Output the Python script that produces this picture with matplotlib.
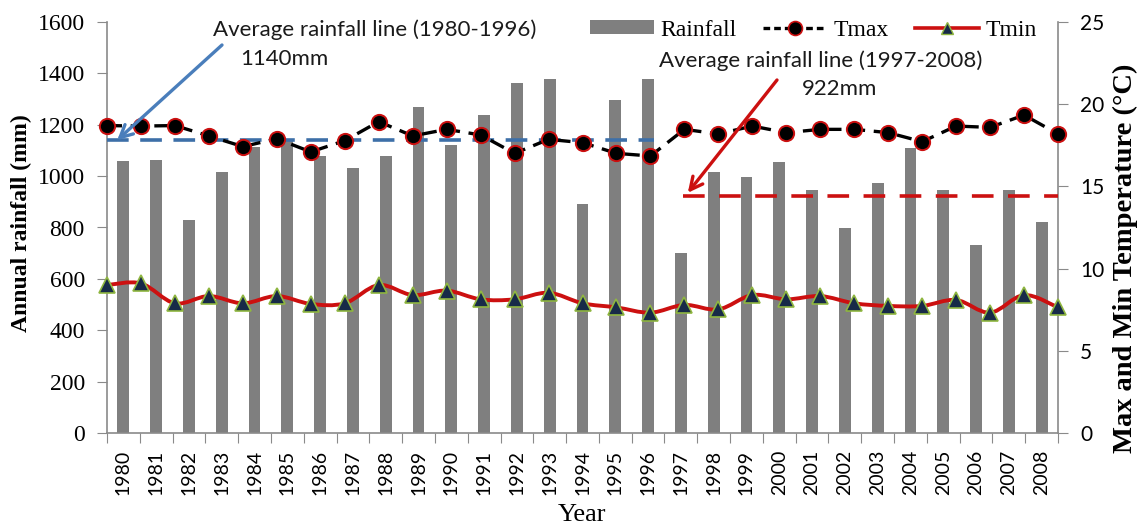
import numpy as np
import matplotlib
matplotlib.use('Agg')
import matplotlib.pyplot as plt
import matplotlib.transforms as mtransforms
from matplotlib.path import Path
from matplotlib.patches import PathPatch, Patch
from matplotlib.lines import Line2D

# ---------------- data ----------------
years = list(range(1980, 2009))
rainfall = [1058, 1063, 829, 1016, 1115, 1140, 1078, 1032, 1078,
            1270, 1121, 1238, 1361, 1377, 891, 1296, 1377,
            700, 1015, 998, 1056, 946, 799, 974, 1111, 946, 732, 946, 823]
tmax = [18.7, 18.67, 18.7, 18.07, 17.42, 17.9, 17.1, 17.78, 18.94,
        18.07, 18.47, 18.13, 17.01, 17.86, 17.66, 17.01, 16.85,
        18.47, 18.19, 18.67, 18.27, 18.47, 18.47, 18.27, 17.72, 18.67, 18.59, 19.34, 18.19]
tmin = [9.0, 9.1, 7.89, 8.33, 7.89, 8.33, 7.85, 7.89, 9.0,
        8.39, 8.66, 8.13, 8.13, 8.53, 7.89, 7.64, 7.32,
        7.79, 7.52, 8.39, 8.13, 8.33, 7.89, 7.73, 7.73, 8.09, 7.32, 8.39, 7.64]
avg_1980_1996 = 1140
avg_1997_2008 = 922
rain_ticks = [0, 200, 400, 600, 800, 1000, 1200, 1400, 1600]
temp_ticks = [0, 5, 10, 15, 20, 25]

GRAY_AX = '#8a8a8a'
BAR_C = '#7f7f7f'
BLUE = '#4a7ebb'
RED = '#cc1010'
SERIF = 'Liberation Serif'

W, H = 1143, 526
fig = plt.figure(figsize=(W / 100, H / 100), dpi=100)
pos = [107 / W, 93 / H, 951 / W, 411 / H]

# ---------------- rainfall bars ----------------
ax = fig.add_axes(pos)
n = len(years)
xi = np.arange(n)
ax.bar(xi, rainfall, width=0.36, color=BAR_C, zorder=2)
ax.set_xlim(-0.5, n - 0.5)
ax.set_ylim(0, 1600)
ax.set_yticks(rain_ticks, labels=[str(t) for t in rain_ticks])
ax.set_xticks(np.arange(-0.5, n, 1))
ax.set_xticks(xi, labels=[str(y) for y in years], minor=True)
ax.tick_params(axis='x', which='major', length=7, color=GRAY_AX, labelbottom=False)
ax.tick_params(axis='x', which='minor', length=0, pad=12, labelrotation=90,
               labelsize=14, labelfontfamily='Lato')
ax.tick_params(axis='y', length=7, color=GRAY_AX, pad=9, labelsize=17,
               labelfontfamily=SERIF)
for s in ['top', 'right']:
    ax.spines[s].set_visible(False)
for s in ['left', 'bottom']:
    ax.spines[s].set_color(GRAY_AX)
    ax.spines[s].set_linewidth(1.2)
ax.set_ylabel('Annual rainfall (mm)', family=SERIF, fontsize=17, fontweight='bold')
ax.yaxis.set_label_coords(-0.079, 0.51)
ax.yaxis.label.set_va('bottom')
ax.set_xlabel('Year', family=SERIF, fontsize=19)
ax.xaxis.set_label_coords(0.5, -0.172)
ax.xaxis.label.set_va('top')

# ---------------- temperature axes ----------------
axt = fig.add_axes(pos, label='temps')
axt.patch.set_visible(False)
axt.xaxis.set_visible(False)
axt.yaxis.tick_right()
for s in ['top', 'left', 'bottom']:
    axt.spines[s].set_visible(False)
axt.spines['right'].set_color(GRAY_AX)
axt.spines['right'].set_linewidth(1.2)

trans = mtransforms.blended_transform_factory(axt.transData, ax.transData)

# average rainfall lines
axt.plot([0, 16.1], [avg_1980_1996, avg_1980_1996], transform=trans, color='#3d6fa8',
         lw=2.6, ls=(0, (6, 3.2)), zorder=3, clip_on=False)
axt.plot([16.95, 28], [avg_1997_2008, avg_1997_2008], transform=trans, color=RED,
         lw=2.6, ls=(0, (6, 4)), zorder=3, clip_on=False)

# Tmax
axt.plot(xi, tmax, color='black', lw=2.4, ls=(0, (4.5, 2.6)), marker='o', ms=11,
         mfc='black', mec=RED, mew=1.4, zorder=6, clip_on=False)

# Tmin smooth line (Catmull-Rom style Bezier through the data points)
P = np.column_stack([xi, tmin]).astype(float)
verts = [P[0]]
codes = [Path.MOVETO]
for i in range(n - 1):
    p0 = P[i - 1] if i > 0 else P[i]
    p1 = P[i]
    p2 = P[i + 1]
    p3 = P[i + 2] if i + 2 < n else P[i + 1]
    verts += [p1 + (p2 - p0) / 6, p2 - (p3 - p1) / 6, p2]
    codes += [Path.CURVE4] * 3
axt.add_patch(PathPatch(Path(verts, codes), transform=axt.transData, fill=False,
                        ec=RED, lw=2.8, zorder=5, clip_on=False))
axt.plot(xi, tmin, ls='none', marker='^', ms=11, mfc='#172a48', mec='#8fb640',
         mew=1.2, zorder=7, clip_on=False)

axt.set_xlim(0, n - 1)
axt.set_ylim(0, 25)
axt.set_yticks(temp_ticks, labels=[str(t) for t in temp_ticks])
axt.tick_params(axis='y', length=7, color=GRAY_AX, pad=9, labelsize=15,
                labelfontfamily='Lato')
axt.set_ylabel('Max and Min Temperature (\u00b0C)', family=SERIF,
               fontsize=20.5, fontweight='bold')
axt.yaxis.set_label_position('right')
axt.yaxis.set_label_coords(1.058, 0.426)
axt.yaxis.label.set_va('top')

# ---------------- annotations ----------------
axt.annotate('', xy=(0.3, avg_1980_1996), xycoords=trans,
             xytext=(222 / W, 1 - 45 / H), textcoords='figure fraction',
             arrowprops=dict(arrowstyle='->,head_length=0.9,head_width=0.45',
                             color=BLUE, lw=2.4, shrinkA=0, shrinkB=0), zorder=8)
axt.annotate('', xy=(17.1, 935), xycoords=trans,
             xytext=(777 / W, 1 - 80 / H), textcoords='figure fraction',
             arrowprops=dict(arrowstyle='->,head_length=0.9,head_width=0.45',
                             color=RED, lw=2.4, shrinkA=0, shrinkB=0), zorder=8)
txt_kw = dict(family='Lato', fontsize=16, color='#1a1a1a', va='center', ha='left')
fig.text(213 / W, 1 - 30 / H, 'Average rainfall line (1980-1996)', **txt_kw)
fig.text(240 / W, 1 - 59 / H, '1140mm', **txt_kw)
fig.text(659 / W, 1 - 61 / H, 'Average rainfall line (1997-2008)', **txt_kw)
fig.text(802 / W, 1 - 89 / H, '922mm', **txt_kw)

# ---------------- legend ----------------
handles = [Patch(facecolor=BAR_C, edgecolor='none'),
           Line2D([], [], color='black', lw=2.4, ls=(0, (2, 1.2)), marker='o', ms=10,
                  mfc='black', mec=RED, mew=1.2),
           Line2D([], [], color=RED, lw=2.6, marker='^', ms=9, mfc='#172a48',
                  mec='#8fb640', mew=1.0)]
fig.legend(handles, ['Rainfall', 'Tmax', 'Tmin'], loc='center right',
           bbox_to_anchor=(1037 / W, 1 - 30 / H), ncol=3, frameon=False,
           prop=dict(family=SERIF, size=17), handlelength=2.7,
           handleheight=0.5, handletextpad=0.3, columnspacing=1.1,
           borderpad=0, borderaxespad=0)

fig.savefig('out.png', dpi=100)
